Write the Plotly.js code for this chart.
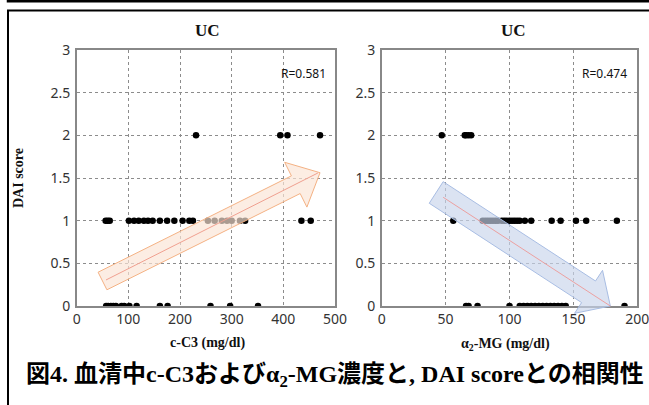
<!DOCTYPE html>
<html>
<head>
<meta charset="utf-8">
<script src="https://cdn.plot.ly/plotly-3.0.1.min.js"></script>
<style>html,body{margin:0;padding:0;background:#fff;}#chart{width:649px;height:405px;}</style>
</head>
<body>
<div id="chart"></div>
<script>
// ---- data ----
const c3Score2 = [231, 394, 408, 471];
const c3Score1 = [56, 60, 64, 101, 111, 120, 130, 138, 147, 161, 175, 189, 205, 218, 225, 254, 267, 281, 291, 300, 316, 326, 435, 453];
const c3Score0 = [57, 61, 66, 71, 76, 87, 92, 102, 116, 161, 176, 259, 297, 351];
const mgScore2 = [47, 65, 66, 68, 70];
const mgScore1 = [56, 79, 81, 83, 85, 87, 89, 91, 94, 96, 98, 100, 102, 104, 106, 108, 112, 117, 133, 140, 152, 160, 184];
const mgScore0 = [66, 68, 75, 100, 108, 111, 114, 117, 120, 123, 126, 129, 132, 135, 138, 141, 144, 190];
const rC3 = 'R=0.581';
const rMG = 'R=0.474';
const yTicks = [0, 0.5, 1, 1.5, 2, 2.5, 3];
const yTickText = ['0', '0.5', '1', '1.5', '2', '2.5', '3'];
const c3Ticks = [0, 100, 200, 300, 400, 500];
const mgTicks = [0, 50, 100, 150, 200];

// trend-arrow outlines (data units) – decorative
const c3Arrow = [[41.4,0.396],[415.6,1.525],[402.6,1.684],[471.0,1.562],[445.6,1.159],[432.6,1.318],[58.5,0.190]];
const c3Line = [[56.7,0.305],[467,1.559]];
const mgArrow = [[48.1,1.457],[167.3,0.293],[172.8,0.418],[178.9,0.0],[150.9,-0.086],[156.4,0.040],[37.2,1.204]];
const mgLine = [[48.1,1.274],[178.9,0.0]];

const xRangeC3 = [0, 500], xRangeMG = [0, 200], yRange = [0, 3];

function rep(arr, v){ return arr.map(() => v); }
function toDom(p, xr, yr){ return [(p[0]-xr[0])/(xr[1]-xr[0]), (p[1]-yr[0])/(yr[1]-yr[0])]; }
function pathOf(pts, xr, yr, close){
  return pts.map((p,i)=>{ const d = toDom(p,xr,yr); return (i?'L':'M')+d[0].toFixed(5)+','+d[1].toFixed(5); }).join(' ') + (close?' Z':'');
}

const mk = {color:'#000', size:6.5};
const c3X = c3Score0.concat(c3Score1, c3Score2);
const c3Y = rep(c3Score0,0).concat(rep(c3Score1,1), rep(c3Score2,2));
const mgX = mgScore0.concat(mgScore1, mgScore2);
const mgY = rep(mgScore0,0).concat(rep(mgScore1,1), rep(mgScore2,2));

const traces = [
  {x:c3X, y:c3Y, type:'scatter', mode:'markers', marker:mk, xaxis:'x', yaxis:'y', hoverinfo:'x+y'},
  {x:mgX, y:mgY, type:'scatter', mode:'markers', marker:mk, xaxis:'x2', yaxis:'y2', hoverinfo:'x+y'}
];

const tickFont = {family:'"Noto Sans", "DejaVu Sans", sans-serif', size:14, color:'#333'};
const serifBold = '"Liberation Serif", "Times New Roman", serif';
const H = 405, W = 649;
const yDom = [(H-306)/H, (H-50)/H];

function xAxis(range, ticks, dom, anchor){
  return {domain:dom, range:range, tickvals:ticks, ticktext:ticks.map(String), tickfont:tickFont, anchor:anchor,
    showgrid:true, gridcolor:'#8c8c8c', griddash:'dot', gridwidth:1, zeroline:false, ticklabeloverflow:'allow',
    showline:true, linecolor:'#888', linewidth:1.6, mirror:true, ticks:'', fixedrange:true, ticklabelstandoff:0};
}
function yAxis(anchor){
  return {domain:yDom, range:yRange, tickvals:yTicks, ticktext:yTickText, tickfont:tickFont, anchor:anchor,
    showgrid:true, gridcolor:'#8c8c8c', griddash:'dot', gridwidth:1, zeroline:false, ticklabeloverflow:'allow',
    showline:true, linecolor:'#888', linewidth:1.6, mirror:true, ticks:'', fixedrange:true, ticklabelstandoff:2};
}

const shapes = [
  {type:'path', xref:'x domain', yref:'y domain', path:pathOf(c3Arrow, xRangeC3, yRange, true),
   fillcolor:'rgba(251,229,214,0.68)', line:{color:'#f4b183', width:1}, layer:'above'},
  {type:'path', xref:'x domain', yref:'y domain', path:pathOf(c3Line, xRangeC3, yRange, false),
   line:{color:'#f0a090', width:1}, layer:'above'},
  {type:'path', xref:'x2 domain', yref:'y2 domain', path:pathOf(mgArrow, xRangeMG, yRange, true),
   fillcolor:'rgba(200,212,235,0.66)', line:{color:'#a8bde3', width:1}, layer:'above'},
  {type:'path', xref:'x2 domain', yref:'y2 domain', path:pathOf(mgLine, xRangeMG, yRange, false),
   line:{color:'#eca0a0', width:1}, layer:'above'},
  // frames
  {type:'rect', xref:'paper', yref:'paper', x0:8/W, x1:1.2, y0:1-1.3/H, y1:1.1, line:{color:'#000', width:2.5}},
  {type:'rect', xref:'paper', yref:'paper', x0:8/W, x1:1.2, y0:-0.2, y1:1-10.5/H, line:{color:'#000', width:2}}
];

const txt = (text, x, y, font, extra) => Object.assign({text:text, xref:'paper', yref:'paper', x:x/W, y:1-y/H,
  showarrow:false, font:font, xanchor:'center', yanchor:'middle'}, extra||{});
const titleFont = {family:serifBold, size:17, color:'#111'};
const axFont = {family:serifBold, size:14, color:'#111'};
const rFont = {family:'"Noto Sans", sans-serif', size:12, color:'#111'};

const annotations = [
  txt('<b>UC</b>', 207, 30, titleFont),
  txt('<b>UC</b>', 513, 30, titleFont),
  txt(rC3, 328, 73, rFont, {xanchor:'right'}),
  txt(rMG, 629, 73, rFont, {xanchor:'right'}),
  txt('<b>c-C3 (mg/dl)</b>', 207, 343, axFont),
  txt('<b>α<sub>2</sub>-MG (mg/dl)</b>', 505, 344, axFont),
  txt('<b>DAI score</b>', 18, 178, axFont, {textangle:-90}),
  txt('<b>図4. 血清中c-C3およびα<sub>2</sub>-MG濃度と, DAI scoreとの相関性</b>', 335, 376,
      {family:'"Liberation Serif", "Noto Sans CJK JP", serif', size:24, color:'#000'})
];

const layout = {
  width:W, height:H, margin:{l:0, r:0, t:0, b:0}, showlegend:false,
  paper_bgcolor:'#fff', plot_bgcolor:'#fff',
  xaxis: xAxis(xRangeC3, c3Ticks, [76.7/W, 335/W], 'y'),
  yaxis: yAxis('x'),
  xaxis2: xAxis(xRangeMG, mgTicks, [381.7/W, 637.3/W], 'y2'),
  yaxis2: yAxis('x2'),
  shapes: shapes, annotations: annotations
};

Plotly.newPlot('chart', traces, layout, {displayModeBar:false, staticPlot:true});
</script>
</body>
</html>
